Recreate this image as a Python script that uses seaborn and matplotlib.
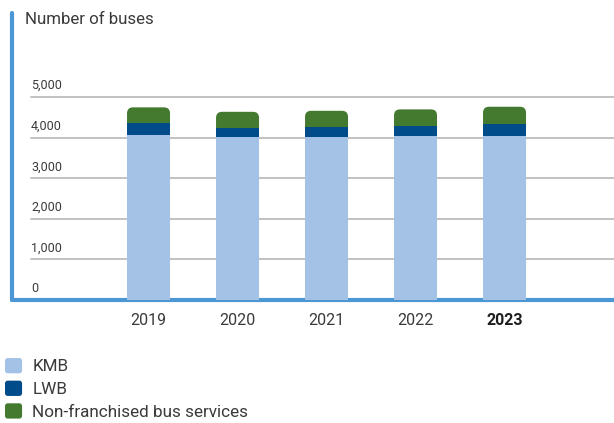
import matplotlib
matplotlib.use("Agg")
import matplotlib.pyplot as plt
from matplotlib.patches import FancyBboxPatch, Patch
from matplotlib.legend_handler import HandlerPatch
import numpy as np
import pandas as pd
import seaborn as sns

# Fleet size by operator
years = ["2019", "2020", "2021", "2022", "2023"]
kmb = [4060, 4015, 4015, 4040, 4040]
lwb = [300, 220, 245, 245, 295]
non_franchised = [385, 400, 400, 410, 425]

series_names = ["KMB", "LWB", "Non-franchised bus services"]
series_colors = ["#A3C2E5", "#004B8A", "#447A2F"]
ytick_values = [0, 1000, 2000, 3000, 4000, 5000]
ytick_labels = ["0", "1,000", "2,000", "3,000", "4,000", "5,000"]

axis_blue = "#4A97D3"
grid_grey = "#C2C2C2"
text_col = "#3A3A3A"

sns.set_theme(style="white")
plt.rcParams["font.family"] = ["Roboto", "DejaVu Sans"]

W, H = 614, 423
fig = plt.figure(figsize=(W / 100, H / 100), dpi=100)
ax_left, ax_bottom, ax_top = 12, 300, 13
ax = fig.add_axes([ax_left / W, (H - ax_bottom) / H, 1 - ax_left / W, (ax_bottom - ax_top) / H])

df = pd.DataFrame({"year": years, "KMB": kmb, "LWB": lwb, "NF": non_franchised})
df["lvl1"] = df["KMB"]
df["lvl2"] = df["KMB"] + df["LWB"]
df["lvl3"] = df["lvl2"] + df["NF"]

bar_w = 0.483
# stacked bars: cumulative totals drawn from the top level down
for col, color in zip(["lvl3", "lvl2", "lvl1"], series_colors[::-1]):
    sns.barplot(data=df, x="year", y=col, color=color, width=bar_w,
                saturation=1, linewidth=0, errorbar=None, ax=ax, zorder=3)

cat_px = 89
xmin = -1.534
xmax = xmin + (W - ax_left) / cat_px
ymax = (ax_bottom - ax_top) / 0.0406
ax.set_xlim(xmin, xmax)
ax.set_ylim(0, ymax)

# round the top corners of the upper segment
top_container = ax.containers[0]
px_per_x = (W - ax_left) / (xmax - xmin)
px_per_y = (ax_bottom - ax_top) / ymax
radius_px = 6
for rect in top_container.patches:
    x0, y0 = rect.get_x(), rect.get_y()
    w, h = rect.get_width(), rect.get_height()
    rect.set_visible(False)
    rounded = FancyBboxPatch((x0, y0), w, h,
                             boxstyle=f"round,pad=0,rounding_size={radius_px / px_per_x}",
                             mutation_aspect=px_per_x / px_per_y,
                             facecolor=rect.get_facecolor(), edgecolor="none", zorder=2.9)
    ax.add_patch(rounded)

# horizontal gridlines with labels sitting above them
grid_x0 = (31 - ax_left) / (W - ax_left)
for v, lab in zip(ytick_values, ytick_labels):
    if v > 0:
        ax.axhline(v, xmin=grid_x0, xmax=1, color=grid_grey, lw=1.4, zorder=1)
    ax.annotate(lab, xy=(grid_x0, v), xycoords=ax.get_yaxis_transform(),
                xytext=(0, 3.5), textcoords="offset points", ha="left", va="bottom",
                fontsize=9, color=text_col)

ax.set_yticks([])
ax.set_xlabel("")
ax.set_ylabel("")
ax.tick_params(axis="x", length=0, pad=9, labelsize=11.5, labelcolor=text_col)
for lab in ax.get_xticklabels():
    if lab.get_text() == "2023":
        lab.set_fontweight("bold")
        lab.set_color("#1E1E1E")

for side in ["top", "right"]:
    ax.spines[side].set_visible(False)
for side in ["left", "bottom"]:
    ax.spines[side].set_color(axis_blue)
    ax.spines[side].set_linewidth(3)
    ax.spines[side].set_capstyle("round")
ax.set_facecolor("white")

fig.text(25 / W, 1 - 20 / H, "Number of buses", ha="left", va="center",
         fontsize=12.2, color=text_col)


class RoundedSquare(HandlerPatch):
    def create_artists(self, legend, orig_handle, xdescent, ydescent, width, height, fontsize, trans):
        p = FancyBboxPatch((-xdescent, -ydescent), width, height,
                           boxstyle=f"round,pad=0,rounding_size={min(width, height) * 0.18}",
                           facecolor=orig_handle.get_facecolor(), edgecolor="none", transform=trans)
        return [p]


handles = [Patch(facecolor=c, label=n) for n, c in zip(series_names, series_colors)]
fig.legend(handles=handles, loc="upper left", bbox_to_anchor=(5 / W, 1 - 358 / H),
           frameon=False, fontsize=12.3, handlelength=1.0, handleheight=1.0,
           handletextpad=0.6, labelspacing=0.36, borderpad=0, borderaxespad=0,
           labelcolor=text_col, handler_map={Patch: RoundedSquare()})

fig.savefig("out.png", dpi=100, facecolor="white")
